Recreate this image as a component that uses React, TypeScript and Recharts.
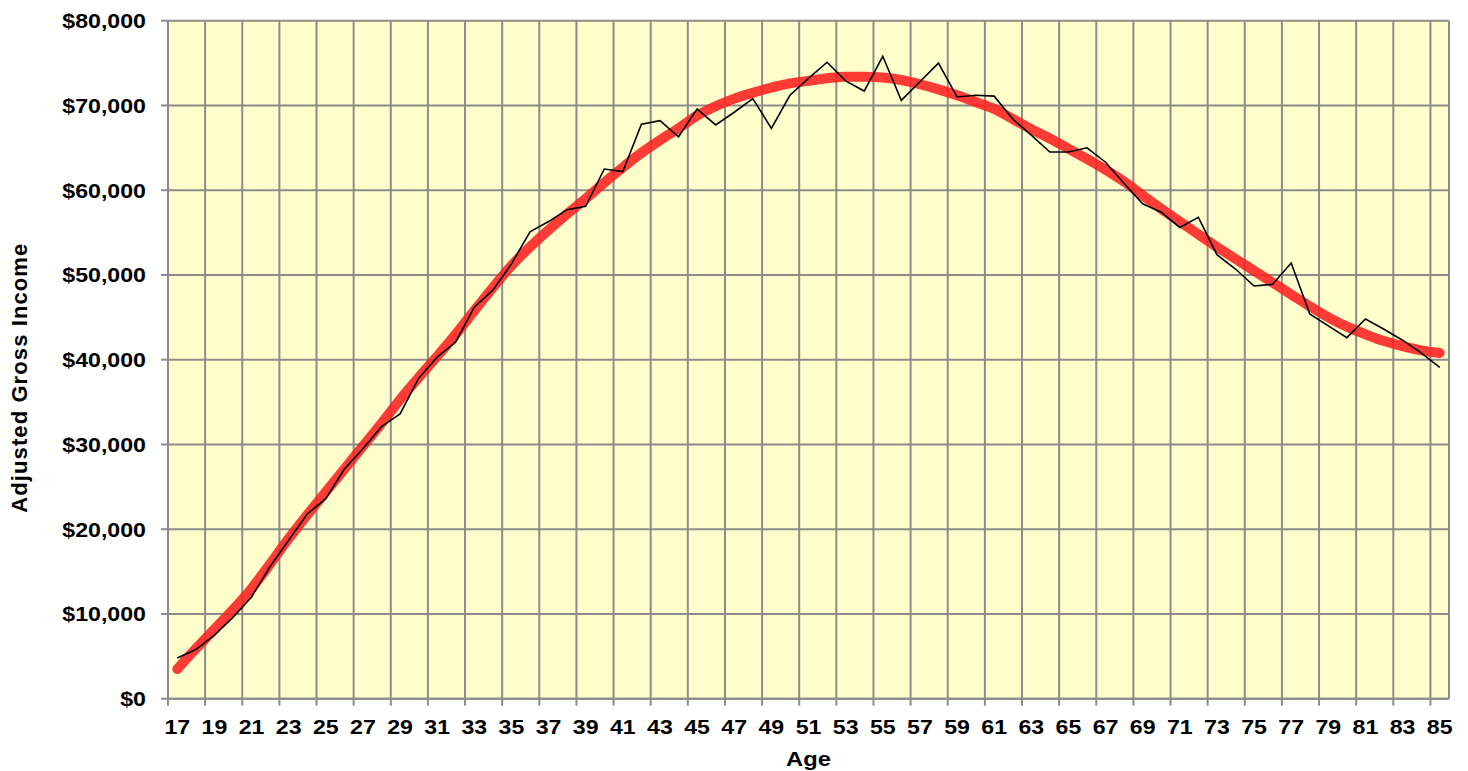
import React from 'react';
import { LineChart, Line, XAxis, YAxis, CartesianGrid, Label } from 'recharts';

const ages = [
  17, 18, 19, 20, 21, 22, 23, 24, 25, 26, 27, 28, 29, 30, 31, 32, 33, 34, 35, 36, 37, 38, 39,
  40, 41, 42, 43, 44, 45, 46, 47, 48, 49, 50, 51, 52, 53, 54, 55, 56, 57, 58, 59, 60, 61, 62,
  63, 64, 65, 66, 67, 68, 69, 70, 71, 72, 73, 74, 75, 76, 77, 78, 79, 80, 81, 82, 83, 84, 85,
];

const actualIncome = [
  4800, 5800, 7500, 9600, 12000, 15600, 18700, 21800, 23600, 27100, 29500, 32100, 33600,
  37800, 40300, 42100, 46200, 48200, 51300, 55100, 56300, 57700, 58100, 62500, 62200, 67800,
  68200, 66300, 69600, 67700, 69200, 70800, 67300, 71200, 73200, 75100, 72900, 71700, 75800,
  70600, 72800, 75000, 71000, 71200, 71100, 68400, 66500, 64500, 64500, 65000, 63300, 60800,
  58400, 57400, 55600, 56800, 52400, 50700, 48700, 48900, 51400, 45400, 44000, 42600, 44800,
  43600, 42300, 40800, 39100,
];

const fittedIncome = [
  3500, 5900, 8200, 10500, 13000, 15900, 18900, 21700, 24400, 27100, 29800, 32500, 35300,
  37900, 40400, 43000, 45800, 48500, 51100, 53300, 55300, 57200, 59000, 60900, 62700, 64400,
  65900, 67300, 68800, 69900, 70800, 71500, 72100, 72600, 72900, 73200, 73400, 73400, 73300,
  73000, 72500, 71900, 71200, 70400, 69600, 68400, 67200, 66100, 64900, 63700, 62400, 61000,
  59400, 57800, 56300, 54800, 53300, 51900, 50500, 49100, 47700, 46300, 45000, 43900, 43000,
  42200, 41600, 41100, 40800,
];

const yTicks = [0, 10000, 20000, 30000, 40000, 50000, 60000, 70000, 80000];
const xLabelTicks = [
  17, 19, 21, 23, 25, 27, 29, 31, 33, 35, 37, 39, 41, 43, 45, 47, 49, 51, 53, 55, 57, 59, 61,
  63, 65, 67, 69, 71, 73, 75, 77, 79, 81, 83, 85,
];
const xGridTicks = [
  16.5, 18.5, 20.5, 22.5, 24.5, 26.5, 28.5, 30.5, 32.5, 34.5, 36.5, 38.5, 40.5, 42.5, 44.5,
  46.5, 48.5, 50.5, 52.5, 54.5, 56.5, 58.5, 60.5, 62.5, 64.5, 66.5, 68.5, 70.5, 72.5, 74.5,
  76.5, 78.5, 80.5, 82.5, 84.5,
];

const data = ages.map((age, i) => ({ age, actual: actualIncome[i], fitted: fittedIncome[i] }));

const FONT = '"Liberation Sans", Arial, Helvetica, sans-serif';
const GRID = '#8c8c8c';
const STRETCH = 1.13;
const textStyle = {
  fontFamily: FONT,
  fontWeight: 700,
  fontSize: 20.5,
  fill: '#000',
};

const fmtMoney = (v: number) => '$' + v.toLocaleString('en-US');

const YTick = (props: any) => {
  const { x, y, payload } = props;
  return (
    <g transform={`translate(${x},${y}) scale(${STRETCH},1)`}>
      <text x={0} y={0} dy="0.36em" textAnchor="end" style={textStyle}>
        {fmtMoney(payload.value)}
      </text>
    </g>
  );
};

const XTick = (props: any) => {
  const { x, y, payload } = props;
  return (
    <g transform={`translate(${x},${y}) scale(${STRETCH},1)`}>
      <text x={0} y={0} dy="0.71em" textAnchor="middle" style={textStyle}>
        {payload.value}
      </text>
    </g>
  );
};

const EmptyTick = () => <g />;

const YTitle = (props: any) => {
  const vb = props.viewBox || {};
  const x = vb.x + 19;
  const y = vb.y + vb.height / 2 + 18;
  return (
    <text
      x={x}
      y={y}
      transform={`rotate(-90, ${x}, ${y})`}
      textAnchor="middle"
      style={{ ...textStyle, fontSize: 22, letterSpacing: 1.1 }}
    >
      Adjusted Gross Income
    </text>
  );
};

const XTitle = (props: any) => {
  const vb = props.viewBox || {};
  const x = vb.x + vb.width / 2;
  const y = vb.y + vb.height + 15;
  return (
    <g transform={`translate(${x},${y}) scale(${STRETCH},1)`}>
      <text x={0} y={0} textAnchor="middle" style={{ ...textStyle, fontSize: 21 }}>
        Age
      </text>
    </g>
  );
};

export default function App() {
  return (
    <div style={{ width: 1460, height: 763 }}>
      <LineChart
        width={1460}
        height={763}
        data={data}
        margin={{ top: 12.7, right: 19, left: 0, bottom: 20.3 }}
      >
        <CartesianGrid
          xAxisId="grid"
          stroke={GRID}
          strokeWidth={2}
          fill="#ffffcc"
          fillOpacity={1}
          vertical={true}
          horizontal={true}
        />
        <XAxis
          xAxisId="grid"
          type="number"
          dataKey="age"
          domain={[16.5, 85.5]}
          ticks={xGridTicks}
          interval={0}
          tick={<EmptyTick />}
          tickSize={7}
          height={7}
          axisLine={{ stroke: GRID, strokeWidth: 2 }}
          tickLine={{ stroke: GRID, strokeWidth: 2 }}
          allowDataOverflow
        />
        <XAxis
          xAxisId="labels"
          type="number"
          dataKey="age"
          domain={[16.5, 85.5]}
          ticks={xLabelTicks}
          interval={0}
          tickSize={0}
          tickMargin={14}
          height={45}
          axisLine={false}
          tickLine={false}
          tick={<XTick />}
          allowDataOverflow
        >
          <Label content={<XTitle />} />
        </XAxis>
        <YAxis
          type="number"
          domain={[0, 80000]}
          ticks={yTicks}
          interval={0}
          width={160}
          tickSize={7}
          tickMargin={15}
          axisLine={{ stroke: GRID, strokeWidth: 2 }}
          tickLine={{ stroke: GRID, strokeWidth: 2 }}
          tick={<YTick />}
        >
          <Label content={<YTitle />} />
        </YAxis>
        <Line
          xAxisId="grid"
          type="monotone"
          dataKey="fitted"
          stroke="#ff2020"
          strokeOpacity={0.88}
          strokeWidth={10}
          strokeLinecap="round"
          dot={false}
          activeDot={false}
          isAnimationActive={false}
        />
        <Line
          xAxisId="grid"
          type="linear"
          dataKey="actual"
          stroke="#000"
          strokeWidth={1.6}
          dot={false}
          activeDot={false}
          isAnimationActive={false}
        />
      </LineChart>
    </div>
  );
}
